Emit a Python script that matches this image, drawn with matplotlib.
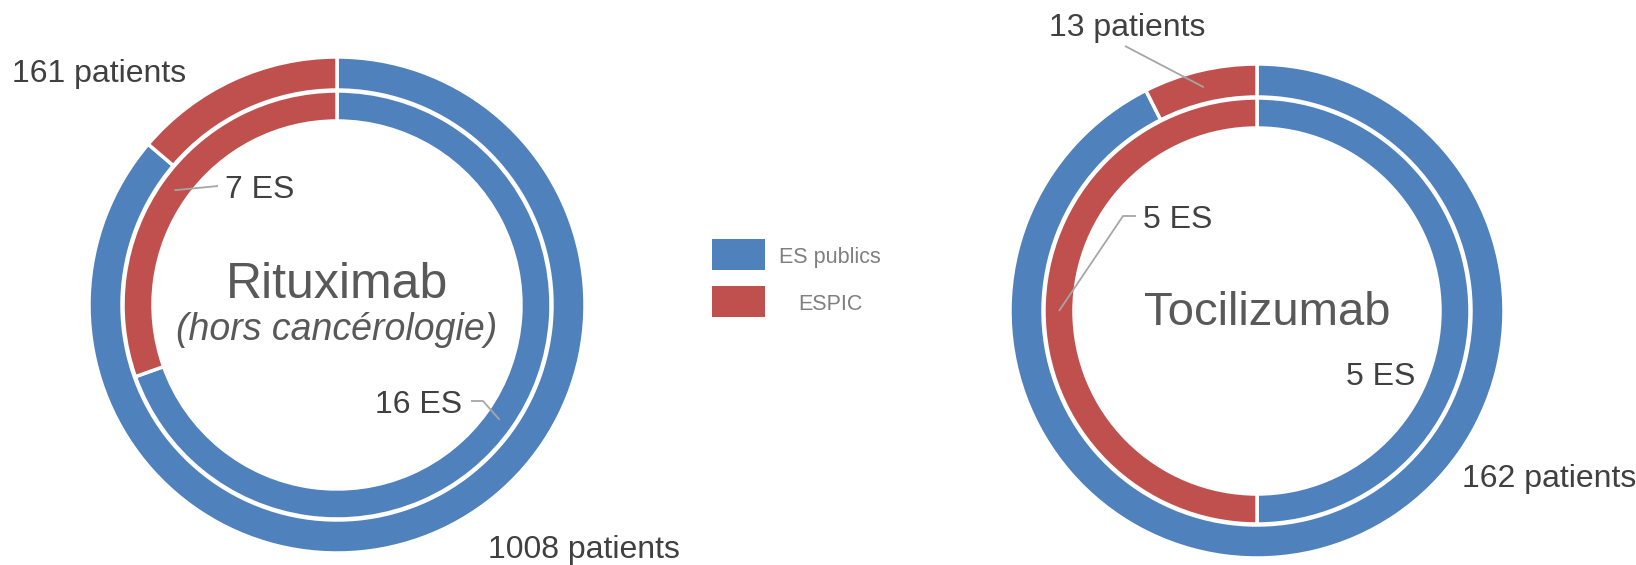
import numpy as np
import matplotlib
matplotlib.use("Agg")
import matplotlib.pyplot as plt
from matplotlib.patches import Rectangle

plt.rcParams['font.family'] = ['Liberation Sans', 'DejaVu Sans']

# data
series = ['ES publics', 'ESPIC']
colors = ['#4F81BD', '#C0504D']
ritux_patients = [1008, 161]
ritux_es = [16, 7]
toci_patients = [162, 13]
toci_es = [5, 5]

W, H = 1636, 565
fig = plt.figure(figsize=(W / 100, H / 100), dpi=100)
ax = fig.add_axes([0, 0, 1, 1])

txt_col = '#404040'
line_col = '#A6A6A6'
edge = dict(edgecolor='white', linewidth=2.5)


def Y(y):
    # pixel row (from top) -> data y
    return H - y


def donut(cx, cy, outer, inner, r_out):
    w1, _ = ax.pie(outer, colors=colors, startangle=90, counterclock=False,
                   center=(cx, Y(cy)), radius=r_out,
                   wedgeprops=dict(width=33, **edge))
    r_in = r_out - 34
    w2, _ = ax.pie(inner, colors=colors, startangle=90, counterclock=False,
                   center=(cx, Y(cy)), radius=r_in,
                   wedgeprops=dict(width=30, **edge))
    return w1, w2, r_out - 17, r_in - 15


def anchor(wedge, r, cx, cy):
    a = np.deg2rad((wedge.theta1 + wedge.theta2) / 2)
    return cx + r * np.cos(a), Y(cy) + r * np.sin(a)


def leader(pts):
    xs = [p[0] for p in pts]
    ys = [p[1] for p in pts]
    ax.plot(xs, ys, color=line_col, lw=1.3, solid_capstyle='butt')


# Rituximab
cxL, cyL = 337, 305
wo, wi, rmo, rmi = donut(cxL, cyL, ritux_patients, ritux_es, 248)
ax.text(488, Y(558), f"{ritux_patients[0]} patients", fontsize=23, color=txt_col, va='baseline')
ax.text(12, Y(82), f"{ritux_patients[1]} patients", fontsize=23, color=txt_col, va='baseline')
ax.text(462, Y(413), f"{ritux_es[0]} ES", fontsize=23, color=txt_col, va='baseline', ha='right')
ax.text(225, Y(198), f"{ritux_es[1]} ES", fontsize=23, color=txt_col, va='baseline')
leader([anchor(wi[0], rmi, cxL, cyL), (483, Y(401)), (471, Y(401))])
leader([anchor(wi[1], rmi, cxL, cyL), (218, Y(186))])
ax.text(cxL, Y(298), "Rituximab", fontsize=36, color='#595959', ha='center', va='baseline')
ax.text(cxL, Y(340), "(hors cancérologie)", fontsize=27, color='#595959', ha='center',
        va='baseline', style='italic')

# Tocilizumab
cxR, cyR = 1257, 311
wo, wi, rmo, rmi = donut(cxR, cyR, toci_patients, toci_es, 247)
ax.text(1462, Y(487), f"{toci_patients[0]} patients", fontsize=23, color=txt_col, va='baseline')
ax.text(1049, Y(36), f"{toci_patients[1]} patients", fontsize=23, color=txt_col, va='baseline')
ax.text(1346, Y(385), f"{toci_es[0]} ES", fontsize=23, color=txt_col, va='baseline')
ax.text(1143, Y(228), f"{toci_es[1]} ES", fontsize=23, color=txt_col, va='baseline')
leader([anchor(wo[1], rmo, cxR, cyR), (1125, Y(46))])
leader([anchor(wi[1], rmi, cxR, cyR), (1123, Y(216)), (1136, Y(216))])
ax.text(1267, Y(325), "Tocilizumab", fontsize=34, color='#595959', ha='center', va='baseline')

# legend
for i, (name, c) in enumerate(zip(series, colors)):
    top = 239 + i * 47
    ax.add_patch(Rectangle((712, Y(top + 31)), 53, 31, facecolor=c, edgecolor='none'))
    ax.text(830, Y(top + 24), name, fontsize=15.5, color='#7F7F7F', ha='center', va='baseline')

ax.set_xlim(0, W)
ax.set_ylim(0, H)
ax.set_aspect('equal')
ax.axis('off')
fig.savefig('out.png', dpi=100, facecolor='white')
